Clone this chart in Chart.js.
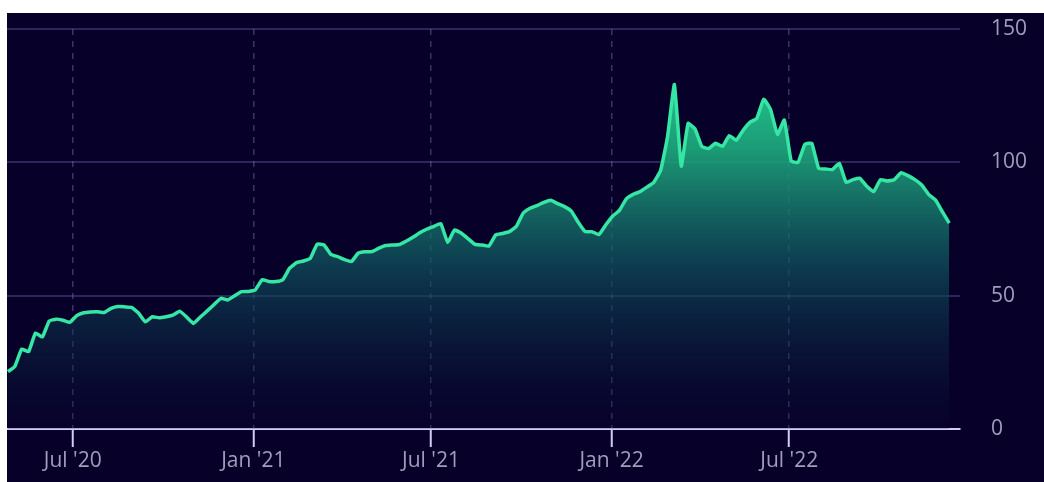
<!DOCTYPE html>
<html>
<head>
<meta charset="utf-8">
<script src="https://cdn.jsdelivr.net/npm/chart.js@4"></script>
<style>
  html, body { margin: 0; padding: 0; background: #ffffff; }
  #wrap {
    position: absolute; left: 7px; top: 13px;
    width: 1037px; height: 469px;
    background: #07012a;
  }
</style>
</head>
<body>
<div id="wrap"><canvas id="chart"></canvas></div>
<script>
// weekly closes, first week starting 2020-04-26
const weekStart = "2020-04-26";
const weeklyValues = [
  21.5, 23.5, 30, 29, 36, 34.5, 40.5, 41.2, 40.8, 40,
  42.5, 43.6, 43.9, 44, 43.7, 45.2, 45.9, 45.8, 45.6, 43.5,
  40.2, 42.1, 41.7, 42.1, 42.7, 44.2, 42, 39.6, 42, 44.3,
  46.7, 49, 48.4, 50, 51.5, 51.6, 52.2, 56, 55.3, 55.3,
  56, 60.3, 62.4, 63, 64, 69.3, 69, 65.5, 64.6, 63.5,
  62.8, 66, 66.5, 66.5, 67.8, 68.8, 69, 69.2, 70.5, 72,
  73.7, 75, 76, 77, 70, 74.6, 73.4, 71.3, 69.2, 69,
  68.6, 72.8, 73.3, 74, 76, 81, 82.8, 83.8, 85, 85.8,
  84.5, 83.4, 81.7, 77.5, 74, 74, 72.9, 76.5, 79.8, 82,
  86.3, 88, 89, 90.7, 92.5, 97, 109.6, 129.2, 98.6, 114.6,
  112.5, 105.9, 105.2, 107.2, 106, 110, 108.3, 112, 115, 116.5,
  123.7, 119.8, 110.5, 115.9, 100.5, 100, 106.8, 107.1, 97.7, 97.5,
  97.3, 99.6, 92.5, 93.5, 94, 91, 89, 93.5, 93, 93.5,
  96.1, 95, 93.5, 91.5, 88, 85.9, 81.5, 77.2
];

const tickDates = ["2020-07-01", "2021-01-01", "2021-07-01", "2022-01-01", "2022-07-01"];
const tickLabels = ["Jul '20", "Jan '21", "Jul '21", "Jan '22", "Jul '22"];
const yTicks = [0, 50, 100, 150];

const axisStart = "2020-04-25";
const axisEnd = "2022-12-22";

const dayNum = (s)=>{
  const [y, m, d] = s.split("-").map(Number);
  return Date.UTC(y, m - 1, d) / 864e5;
};

const start = dayNum(weekStart);
const points = weeklyValues.map((v, i)=>({ x: start + 7 * i, y: v }));

const LINE = "#36e6a4";
const GRID = "rgba(125,115,190,0.33)";
const AXIS = "#d2cdf4";
const TEXT = "#a29dbd";

function areaFill(ctx){
  const area = ctx.chart.chartArea;
  if (!area) return "rgba(30,160,120,0.4)";
  const g = ctx.chart.ctx.createLinearGradient(0, area.top, 0, area.bottom);
  g.addColorStop(0, "rgba(44,230,160,1)");
  g.addColorStop(0.3, "rgba(30,172,126,0.9)");
  g.addColorStop(0.6, "rgba(16,82,94,0.7)");
  g.addColorStop(1, "rgba(10,8,48,0.2)");
  return g;
}

Chart.defaults.font.family = "'Open Sans', 'DejaVu Sans', sans-serif";
Chart.defaults.font.size = 21;
Chart.defaults.color = TEXT;

new Chart(document.getElementById("chart"), {
  type: "line",
  data: {
    datasets: [{
      data: points,
      borderColor: LINE,
      borderWidth: 3.5,
      backgroundColor: areaFill,
      fill: "origin",
      pointRadius: 0,
      tension: 0.12
    }]
  },
  options: {
    responsive: true,
    maintainAspectRatio: false,
    animation: false,
    layout: { padding: { top: 16, left: 0, right: 0, bottom: 0 } },
    plugins: { legend: { display: false }, tooltip: { enabled: false } },
    scales: {
      x: {
        type: "linear",
        min: dayNum(axisStart),
        max: dayNum(axisEnd),
        afterBuildTicks: (s)=>{ s.ticks = tickDates.map(d=>({ value: dayNum(d) })); },
        afterFit: (s)=>{ s.height = 53; },
        ticks: {
          autoSkip: false,
          maxRotation: 0,
          padding: 1,
          callback: (v, i)=>tickLabels[i]
        },
        grid: {
          color: "rgba(135,125,200,0.4)",
          lineWidth: 1.5,
          tickLength: 18,
          tickColor: AXIS,
          tickWidth: 2
        },
        border: { display: true, color: AXIS, width: 2, dash: [6, 6] }
      },
      y: {
        position: "right",
        min: 0,
        max: 150,
        afterBuildTicks: (s)=>{ s.ticks = yTicks.map(v=>({ value: v })); },
        afterFit: (s)=>{ s.width = 84; },
        ticks: { padding: 0 },
        // invisible tick marks push the labels away from the plot
        grid: {
          color: (c)=>c.tick && c.tick.value === 0 ? "rgba(0,0,0,0)" : GRID,
          lineWidth: 2,
          drawTicks: true,
          tickLength: 31,
          tickColor: "rgba(0,0,0,0)"
        },
        border: { display: false }
      }
    }
  }
});
</script>
</body>
</html>
